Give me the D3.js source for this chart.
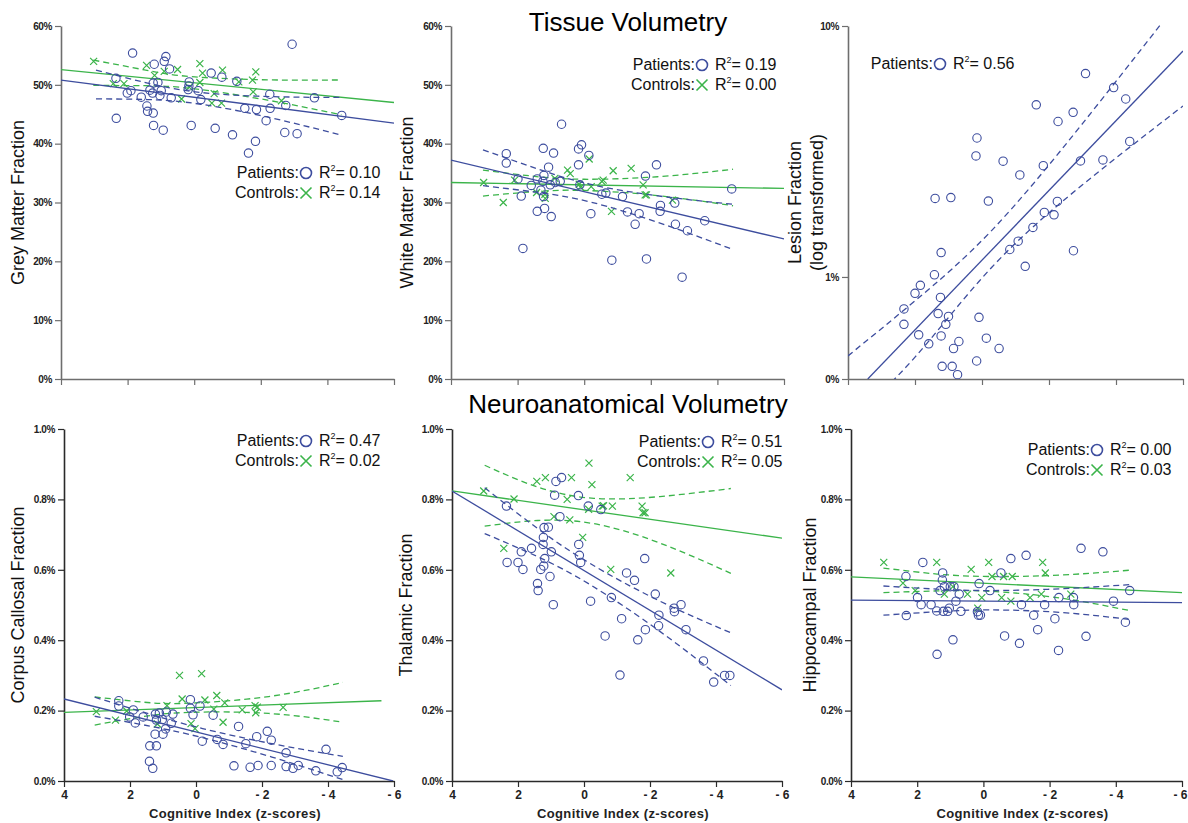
<!DOCTYPE html>
<html>
<head>
<meta charset="utf-8">
<script src="https://cdn.jsdelivr.net/npm/d3@7"></script>
<style>
  body { margin: 0; background: #fff; }
  svg { font-family: "Liberation Sans", Arial, sans-serif; }
</style>
</head>
<body>
<div id="chart"></div>
<script>
const width = 1188, height = 823;
const blue = "#3d4d9e", green = "#3bb44a";

const xTicks = [4, 2, 0, -2, -4, -6];
const pctTicks = [0, 10, 20, 30, 40, 50, 60];
const smallTicks = [0, 0.2, 0.4, 0.6, 0.8, 1.0];
const lesionTicks = [0, 1, 10];

const r2Patients = ["0.10", "0.19", "0.56", "0.47", "0.51", "0.00"];
const r2Controls = ["0.14", "0.00", null, "0.02", "0.05", "0.03"];

// ---- grey matter (%)
const gmPatients = [[2.35,51.1],[2.34,44.3],[1.85,55.4],[2.01,48.6],[1.9,49.0],[1.59,47.9],[1.42,46.4],[1.4,45.5],[1.23,45.2],[1.22,43.1],[1.33,49.1],[1.25,48.6],[1.23,50.3],[1.2,53.5],[1.09,50.4],[1.03,48.2],[0.99,49.0],[0.93,42.3],[0.9,54.0],[0.85,54.8],[0.74,52.7],[0.69,47.8],[0.18,49.2],[0.15,50.5],[0.16,49.8],[0.09,43.1],[-0.12,49.0],[-0.2,47.5],[-0.51,52.0],[-0.63,42.6],[-0.83,51.3],[-1.15,41.5],[-1.28,50.6],[-1.52,46.0],[-1.63,38.4],[-1.84,40.4],[-1.87,45.8],[-2.16,43.9],[-2.27,48.4],[-2.28,46.0],[-2.72,41.9],[-2.75,46.5],[-2.94,56.9],[-3.09,41.7],[-3.61,47.8],[-4.43,44.8]];
const gmControls = [[3.02,54.0],[2.43,50.2],[2.11,50.2],[1.43,53.3],[1.19,51.6],[0.9,52.3],[0.5,52.6],[0.38,47.6],[0.15,49.6],[-0.17,53.6],[-0.17,50.4],[-0.25,52.0],[-0.53,46.9],[-0.6,48.5],[-0.82,46.9],[-0.85,52.5],[-1.34,50.5],[-1.75,50.8],[-1.77,48.8],[-1.85,52.2],[-2.62,47.3]];
const gmPatFit = [[4,50.8],[-6,43.5]];
const gmConFit = [[4,52.6],[-6,47.0]];
const gmPatCi = [[2.95,47.6,52.5],[1.4,47.5,50.3],[-0.2,46.7,48.7],[-2.3,44.4,48.0],[-4.42,41.45,47.85]];
const gmConCi = [[3.03,49.9,54.2],[1.5,49.85,52.55],[0.1,49.4,51.4],[-2.2,47.4,50.85],[-4.42,44.9,50.83]];

// ---- white matter (%)
const wmPatients = [[2.34,38.3],[2.34,36.7],[1.99,34.0],[1.89,31.1],[1.84,22.2],[1.59,32.9],[1.41,34.0],[1.41,28.5],[1.3,32.1],[1.23,39.2],[1.21,34.6],[1.24,33.6],[1.22,31.0],[1.19,29.0],[1.07,36.0],[1.02,33.0],[0.99,27.6],[0.92,38.4],[0.87,33.4],[0.72,33.6],[0.68,43.3],[0.17,39.1],[0.17,36.4],[0.13,33.0],[0.08,39.8],[-0.14,38.0],[-0.2,28.1],[-0.53,31.4],[-0.65,31.6],[-0.83,20.2],[-1.15,31.0],[-1.3,28.4],[-1.53,26.3],[-1.65,28.1],[-1.84,34.5],[-1.87,20.4],[-2.17,36.4],[-2.29,29.5],[-2.28,28.5],[-2.72,29.9],[-2.74,26.3],[-2.94,17.3],[-3.1,25.2],[-3.62,26.9],[-4.43,32.3]];
const wmControls = [[3.02,33.4],[2.43,30.0],[2.09,33.8],[1.43,31.7],[1.17,30.7],[1.18,31.4],[0.88,34.1],[0.5,35.5],[0.42,34.9],[0.15,33.1],[0.11,32.6],[-0.15,37.4],[-0.21,32.7],[-0.53,33.6],[-0.57,33.8],[-0.82,28.5],[-0.87,35.4],[-1.41,35.8],[-1.77,33.0],[-1.83,31.3],[-1.87,31.3],[-2.65,30.4]];
const wmPatFit = [[4,37.2],[-6,23.8]];
const wmConFit = [[4,33.4],[-6,32.4]];
const wmPatCi = [[3.04,32.86,38.96],[1.4,31.72,35.72],[-0.2,30.07,33.07],[-2.3,26.46,31.06],[-4.47,22.0,29.7]];
const wmConCi = [[3.04,31.1,35.5],[1.5,31.85,34.45],[0.0,32.05,33.95],[-2.2,31.18,34.38],[-4.47,29.45,35.65]];

// ---- lesion (%, log transformed axis)
const lesionPatients = [[2.33,0.61],[2.33,0.45],[2.0,0.79],[1.84,0.89],[1.89,0.35],[1.59,0.27],[1.42,1.03],[1.40,2.41],[1.31,0.56],[1.24,0.74],[1.22,1.36],[1.22,0.34],[1.19,0.09],[1.08,0.45],[1.0,0.53],[0.93,2.43],[0.89,0.09],[0.85,0.23],[0.73,0.03],[0.69,0.29],[0.18,3.55],[0.15,4.14],[0.16,0.13],[0.09,0.52],[-0.13,0.32],[-0.19,2.35],[-0.51,0.23],[-0.63,3.39],[-0.83,1.41],[-1.08,1.55],[-1.13,3.0],[-1.29,1.15],[-1.52,1.80],[-1.62,5.44],[-1.83,3.26],[-1.86,2.10],[-2.15,2.05],[-2.25,2.34],[-2.27,4.75],[-2.72,5.12],[-2.73,1.39],[-2.94,3.40],[-3.09,6.96],[-3.61,3.43],[-3.93,6.24],[-4.29,5.70],[-4.41,4.02]];
const lesionPatFit = [[3.41,0],[-6,8.28]];
const lesionPatCi = [[4,-0.35,0.17],[2,0.16,0.70],[-0.3,1.14,1.75],[-3,2.74,4.67],[-6,5.39,12.49]];

// ---- corpus callosum (%)
const ccPatients = [[2.34,0.228],[2.34,0.213],[2.01,0.182],[1.90,0.202],[1.84,0.165],[1.6,0.182],[1.40,0.100],[1.41,0.056],[1.31,0.036],[1.23,0.190],[1.24,0.133],[1.20,0.100],[1.20,0.173],[1.11,0.193],[1.02,0.175],[1.0,0.133],[0.92,0.148],[0.9,0.196],[0.75,0.164],[0.7,0.190],[0.17,0.231],[0.17,0.207],[0.09,0.188],[-0.12,0.213],[-0.19,0.113],[-0.52,0.187],[-0.64,0.118],[-0.82,0.104],[-1.15,0.043],[-1.29,0.155],[-1.51,0.106],[-1.64,0.039],[-1.84,0.126],[-1.88,0.044],[-2.16,0.141],[-2.28,0.116],[-2.28,0.044],[-2.73,0.080],[-2.73,0.041],[-2.94,0.036],[-3.10,0.044],[-3.63,0.029],[-3.94,0.090],[-4.28,0.026],[-4.43,0.038]];
const ccControls = [[3.02,0.197],[2.44,0.173],[2.1,0.199],[1.17,0.162],[0.88,0.214],[0.5,0.300],[0.42,0.233],[0.15,0.163],[0.03,0.149],[-0.17,0.305],[-0.27,0.230],[-0.54,0.204],[-0.63,0.243],[-0.82,0.167],[-0.87,0.222],[-1.4,0.202],[-1.79,0.214],[-1.81,0.194],[-1.86,0.210],[-2.64,0.209]];
const ccPatFit = [[4,0.233],[-5.97,0.0]];
const ccConFit = [[4,0.195],[-5.62,0.228]];
const ccPatCi = [[3.07,0.184,0.238],[1.4,0.156,0.190],[-0.2,0.123,0.149],[-2.3,0.068,0.106],[-4.45,0.004,0.070]];
const ccConCi = [[3.07,0.159,0.239],[1.6,0.183,0.224],[0.2,0.195,0.221],[-2.2,0.192,0.240],[-4.45,0.167,0.280]];

// ---- thalamus (%)
const thPatients = [[2.35,0.781],[2.33,0.621],[2.0,0.621],[1.9,0.651],[1.85,0.601],[1.59,0.661],[1.41,0.561],[1.39,0.541],[1.31,0.601],[1.24,0.672],[1.23,0.692],[1.22,0.611],[1.19,0.632],[1.21,0.720],[1.08,0.721],[1.03,0.581],[0.99,0.651],[0.93,0.501],[0.89,0.812],[0.85,0.851],[0.73,0.751],[0.68,0.862],[0.17,0.811],[0.16,0.672],[0.14,0.641],[0.10,0.621],[-0.13,0.781],[-0.20,0.511],[-0.51,0.771],[-0.64,0.412],[-0.83,0.521],[-1.14,0.461],[-1.09,0.301],[-1.29,0.591],[-1.53,0.570],[-1.63,0.401],[-1.84,0.632],[-1.86,0.430],[-2.16,0.531],[-2.26,0.441],[-2.27,0.471],[-2.73,0.491],[-2.74,0.481],[-2.94,0.501],[-3.09,0.430],[-3.62,0.341],[-3.93,0.281],[-4.26,0.300],[-4.42,0.300]];
const thControls = [[3.04,0.824],[2.43,0.661],[2.12,0.801],[1.43,0.851],[1.17,0.862],[0.91,0.751],[0.51,0.800],[0.43,0.742],[0.38,0.862],[0.04,0.692],[-0.15,0.903],[-0.14,0.772],[-0.24,0.842],[-0.55,0.781],[-0.59,0.782],[-0.81,0.601],[-0.86,0.781],[-1.40,0.862],[-1.76,0.781],[-1.79,0.762],[-1.85,0.762],[-2.63,0.591]];
const thPatFit = [[4,0.824],[-6,0.259]];
const thConFit = [[4,0.824],[-6,0.690]];
const thPatCi = [[3.01,0.703,0.833],[1.4,0.637,0.717],[-0.2,0.557,0.617],[-2.3,0.425,0.511],[-4.45,0.271,0.421]];
const thConCi = [[3.01,0.724,0.897],[1.4,0.740,0.835],[-0.3,0.731,0.803],[-2.3,0.676,0.808],[-4.45,0.590,0.831]];

// ---- hippocampus (%)
const hcPatients = [[2.34,0.581],[2.33,0.470],[1.99,0.521],[1.88,0.501],[1.83,0.621],[1.58,0.501],[1.40,0.360],[1.41,0.483],[1.31,0.541],[1.23,0.591],[1.24,0.571],[1.21,0.482],[1.18,0.552],[1.08,0.482],[1.03,0.491],[1.0,0.552],[0.92,0.401],[0.89,0.552],[0.83,0.511],[0.73,0.531],[0.68,0.482],[0.18,0.481],[0.15,0.471],[0.09,0.471],[0.13,0.561],[-0.20,0.541],[-0.53,0.591],[-0.64,0.412],[-0.83,0.632],[-1.09,0.391],[-1.15,0.501],[-1.29,0.641],[-1.52,0.471],[-1.64,0.430],[-1.85,0.501],[-2.16,0.461],[-2.27,0.371],[-2.28,0.521],[-2.72,0.521],[-2.73,0.501],[-2.95,0.661],[-3.10,0.411],[-3.61,0.651],[-3.93,0.511],[-4.29,0.451],[-4.42,0.541]];
const hcControls = [[3.01,0.621],[2.43,0.562],[2.06,0.541],[1.41,0.621],[1.18,0.531],[0.92,0.552],[0.48,0.531],[0.37,0.601],[0.17,0.491],[0.05,0.521],[-0.16,0.621],[-0.26,0.581],[-0.55,0.521],[-0.61,0.581],[-0.83,0.511],[-0.87,0.581],[-1.41,0.521],[-1.75,0.531],[-1.79,0.621],[-1.87,0.591],[-2.64,0.531]];
const hcPatFit = [[4,0.514],[-6,0.507]];
const hcConFit = [[4,0.580],[-6,0.535]];
const hcPatCi = [[3.02,0.471,0.554],[1.4,0.481,0.545],[-0.2,0.486,0.541],[-2.3,0.479,0.546],[-4.43,0.459,0.558]];
const hcConCi = [[3.02,0.535,0.605],[1.4,0.540,0.588],[-0.2,0.539,0.581],[-2.3,0.520,0.585],[-4.43,0.484,0.599]];

const pctFmt = d => d + "%";
const smallFmt = d => d.toFixed(1) + "%";
const xFmt = d => d < 0 ? "- " + Math.abs(d) : String(d);

const panels = [
  {box:[61,394,26,379], yDomain:[0,60], yTicks:pctTicks, fmt:pctFmt, title:["Grey Matter Fraction"], titleX:[18],
   pat:gmPatients, con:gmControls, patFit:gmPatFit, conFit:gmConFit, patCi:gmPatCi, conCi:gmConCi, leg:[306,178], bottomRow:false},
  {box:[451,784,26,379], yDomain:[0,60], yTicks:pctTicks, fmt:pctFmt, title:["White Matter Fraction"], titleX:[407],
   pat:wmPatients, con:wmControls, patFit:wmPatFit, conFit:wmConFit, patCi:wmPatCi, conCi:wmConCi, leg:[702,70], bottomRow:false},
  {box:[848,1183,26,379], yDomain:[0,10], log:true, yTicks:lesionTicks, fmt:pctFmt, title:["Lesion Fraction","(log transformed)"], titleX:[795,817],
   pat:lesionPatients, con:null, patFit:lesionPatFit, conFit:null, patCi:lesionPatCi, conCi:null, leg:[940,69], bottomRow:false},
  {box:[64,394,429,781], yDomain:[0,1], yTicks:smallTicks, fmt:smallFmt, title:["Corpus Callosal Fraction"], titleX:[18],
   pat:ccPatients, con:ccControls, patFit:ccPatFit, conFit:ccConFit, patCi:ccPatCi, conCi:ccConCi, leg:[306,446], bottomRow:true},
  {box:[452,782,429,781], yDomain:[0,1], yTicks:smallTicks, fmt:smallFmt, title:["Thalamic Fraction"], titleX:[406],
   pat:thPatients, con:thControls, patFit:thPatFit, conFit:thConFit, patCi:thPatCi, conCi:thConCi, leg:[708,447], bottomRow:true},
  {box:[851,1182,429,781], yDomain:[0,1], yTicks:smallTicks, fmt:smallFmt, title:["Hippocampal Fraction"], titleX:[810],
   pat:hcPatients, con:hcControls, patFit:hcPatFit, conFit:hcConFit, patCi:hcPatCi, conCi:hcConCi, leg:[1097,455], bottomRow:true}
];

const svg = d3.select("#chart").append("svg")
  .attr("width", width)
  .attr("height", height);

svg.append("text").attr("x", 628).attr("y", 31).attr("text-anchor", "middle")
  .attr("font-size", 26).text("Tissue Volumetry");
svg.append("text").attr("x", 628).attr("y", 413).attr("text-anchor", "middle")
  .attr("font-size", 26).text("Neuroanatomical Volumetry");

const xMark = s => `M${-s},${-s}L${s},${s}M${-s},${s}L${s},${-s}`;

panels.forEach((p, i) => {
  const [l, r, t, b] = p.box;
  const x = d3.scaleLinear().domain([4, -6]).range([l, r]);
  const y = (p.log ? d3.scaleSymlog().constant(1) : d3.scaleLinear())
    .domain(p.yDomain).range([b, t]);
  const axisColor = p.bottomRow ? "#2a2a2a" : "#6e6e6e";

  svg.append("clipPath").attr("id", "clip" + i)
    .append("rect").attr("x", l).attr("y", t - 2).attr("width", r - l).attr("height", b - t + 2);

  const g = svg.append("g");

  // axes
  const ya = g.append("g").attr("transform", `translate(${l},0)`)
    .call(d3.axisLeft(y).tickValues(p.yTicks).tickFormat(p.fmt).tickSize(6).tickSizeOuter(0));
  const xa = g.append("g").attr("transform", `translate(0,${b})`)
    .call(d3.axisBottom(x).tickValues(xTicks).tickSize(6).tickSizeOuter(0)
      .tickFormat(p.bottomRow ? xFmt : ""));
  [ya, xa].forEach(a => {
    a.select(".domain").attr("stroke", axisColor).attr("stroke-width", 1.6);
    a.selectAll(".tick line").attr("stroke", axisColor).attr("stroke-width", 1.2);
  });
  ya.selectAll(".tick text").attr("font-size", 10).attr("font-weight", "bold")
    .attr("fill", "#222").attr("letter-spacing", -0.4);
  xa.selectAll(".tick text").attr("font-size", 12).attr("font-weight", "bold").attr("fill", "#222");
  // keep the last label of the far-right panel inside the page
  if (r > width - 10) {
    xa.selectAll(".tick text").filter(d => d === -6).attr("text-anchor", "end").attr("x", 5);
  }

  if (p.bottomRow) {
    g.append("text").attr("x", (l + r) / 2 + 6).attr("y", 818).attr("text-anchor", "middle")
      .attr("font-size", 13).attr("font-weight", "bold").attr("letter-spacing", 0.4)
      .attr("fill", "#222").text("Cognitive Index (z-scores)");
  }

  // y titles
  p.title.forEach((s, k) => {
    g.append("text")
      .attr("transform", `translate(${p.titleX[k]},${(t + b) / 2}) rotate(-90)`)
      .attr("text-anchor", "middle").attr("dy", "0.35em")
      .attr("font-size", 18).attr("fill", "#111").text(s);
  });

  const plot = g.append("g").attr("clip-path", `url(#clip${i})`);
  const line = d3.line().x(d => x(d[0])).y(d => y(d[1]));

  const drawGroup = (pts, fit, ci, color, isCircle) => {
    if (!pts) return;
    // confidence band
    const lo = d3.line().x(d => x(d[0])).y(d => y(d[1])).curve(d3.curveNatural);
    const hi = d3.line().x(d => x(d[0])).y(d => y(d[2])).curve(d3.curveNatural);
    [lo, hi].forEach(fn => {
      plot.append("path").attr("d", fn(ci)).attr("fill", "none")
        .attr("stroke", color).attr("stroke-width", 1.3).attr("stroke-dasharray", "6,4");
    });
    plot.append("path").attr("d", line(fit)).attr("fill", "none")
      .attr("stroke", color).attr("stroke-width", 1.3);
    if (isCircle) {
      plot.selectAll(null).data(pts).join("circle")
        .attr("cx", d => x(d[0])).attr("cy", d => y(d[1])).attr("r", 4.2)
        .attr("fill", "none").attr("stroke", color).attr("stroke-width", 1.1);
    } else {
      plot.selectAll(null).data(pts).join("path")
        .attr("transform", d => `translate(${x(d[0])},${y(d[1])})`)
        .attr("d", xMark(3.5)).attr("fill", "none").attr("stroke", color).attr("stroke-width", 1.2);
    }
  };

  drawGroup(p.con, p.conFit, p.conCi, green, false);
  drawGroup(p.pat, p.patFit, p.patCi, blue, true);

  // legend
  const [lx, ly] = p.leg;
  const rows = [["Patients:", "circle", r2Patients[i]]];
  if (r2Controls[i] !== null) rows.push(["Controls:", "x", r2Controls[i]]);
  rows.forEach((row, k) => {
    const yb = ly + k * 20;
    g.append("text").attr("x", lx - 7).attr("y", yb).attr("text-anchor", "end")
      .attr("font-size", 16).attr("fill", "#111").text(row[0]);
    if (row[1] === "circle") {
      g.append("circle").attr("cx", lx).attr("cy", yb - 5).attr("r", 5.5)
        .attr("fill", "none").attr("stroke", blue).attr("stroke-width", 1.6);
    } else {
      g.append("path").attr("transform", `translate(${lx},${yb - 5})`).attr("d", xMark(5.5))
        .attr("fill", "none").attr("stroke", green).attr("stroke-width", 1.6);
    }
    const tx = g.append("text").attr("x", lx + 13).attr("y", yb)
      .attr("font-size", 16).attr("fill", "#111");
    tx.append("tspan").text("R");
    tx.append("tspan").attr("dy", -7).attr("font-size", 9).text("2");
    tx.append("tspan").attr("dy", 7).text("= " + row[2]);
  });
});
</script>
</body>
</html>
